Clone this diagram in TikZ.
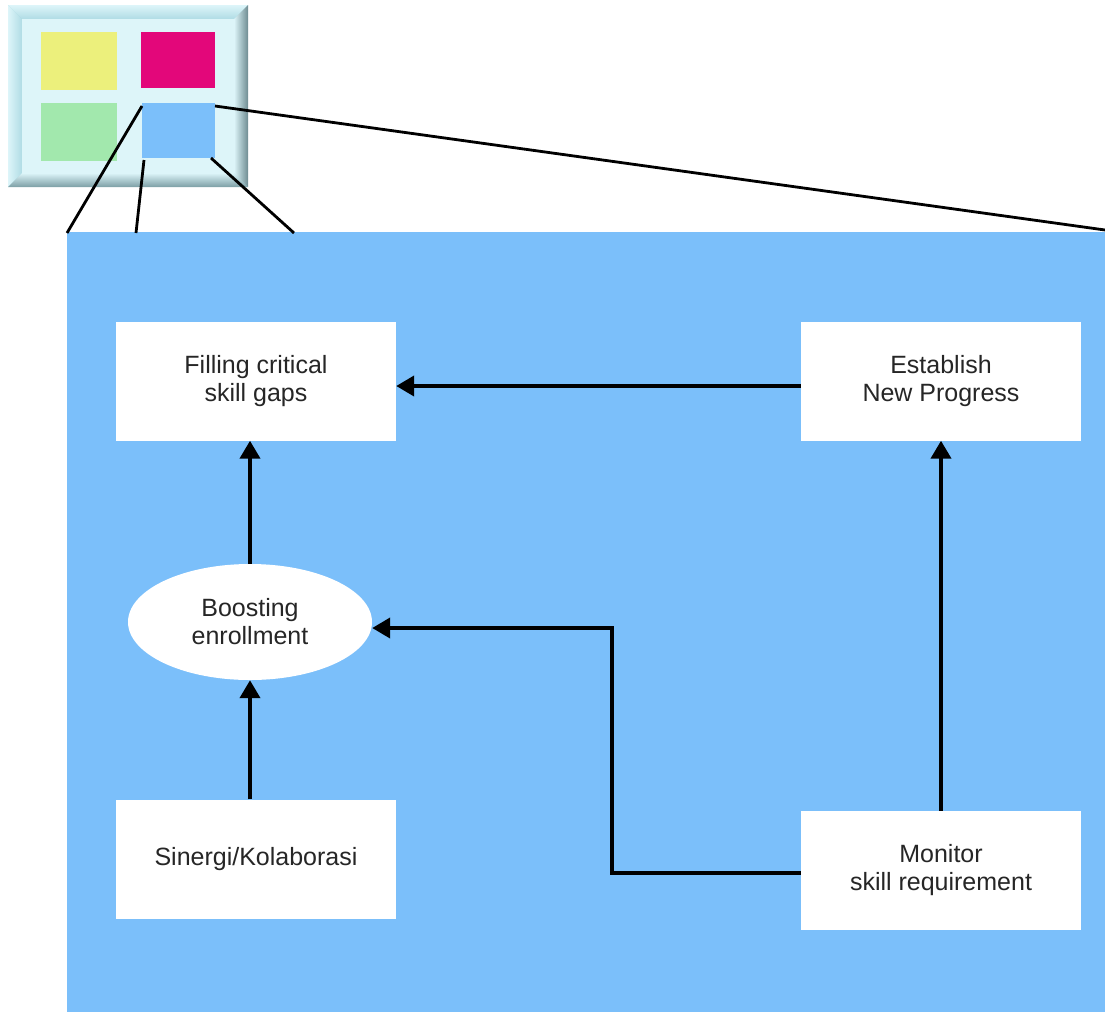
\documentclass[tikz,border=0pt]{standalone}
\usepackage{fontspec}
\setmainfont{Liberation Sans}
\usetikzlibrary{shapes.geometric,arrows.meta}
\definecolor{panelblue}{HTML}{7BBFFA}
\definecolor{frameedge}{HTML}{9CD3DE}
\definecolor{framein}{HTML}{DDF5F9}
\definecolor{tileyellow}{HTML}{ECF07C}
\definecolor{tilemagenta}{HTML}{E3077A}
\definecolor{tilegreen}{HTML}{A2E8AD}
\tikzset{
  every node/.style={font=\fontsize{25}{28}\selectfont, align=center, text=black!85},
  card/.style={fill=white, minimum width=280pt, minimum height=119pt, inner sep=0pt},
  oval/.style={ellipse, fill=white, minimum width=244pt, minimum height=116pt, inner sep=0pt},
  flow/.style={line width=4pt, -{Triangle[length=18pt,width=20pt]}},
  zoomline/.style={line width=2.8pt, black}
}
\begin{document}
\begin{tikzpicture}[x=1pt, y=-1pt]
\useasboundingbox (0,0) rectangle (1105,1012);
% overview frame with bevelled edge
\fill[frameedge] (8,5) rectangle (248,187);
\shade[top color=framein, bottom color=frameedge!80] (8,5) -- (248,5) -- (234,19) -- (22,19) -- cycle;
\shade[left color=framein, right color=frameedge!80] (8,5) -- (22,19) -- (22,173) -- (8,187) -- cycle;
\shade[left color=framein, right color=frameedge!60!black!90] (234,19) -- (248,5) -- (248,187) -- (234,173) -- cycle;
\shade[top color=framein, bottom color=frameedge!70!black!90] (22,173) -- (234,173) -- (248,187) -- (8,187) -- cycle;
\fill[framein] (22,19) rectangle (234,173);
% tiles
\fill[tileyellow] (41,32) rectangle (117,90);
\fill[tilemagenta] (141,32) rectangle (215,88);
\fill[tilegreen] (41,103) rectangle (117,161);
\fill[panelblue] (142,103) rectangle (215,158);
% enlarged panel
\fill[panelblue] (67,232) rectangle (1105,1012);
% zoom guide lines
\coordinate (t1) at (142,106);
\coordinate (t2) at (144,160);
\coordinate (t3) at (211,158);
\coordinate (t4) at (215,106);
\coordinate (p1) at (67,233);
\coordinate (p2) at (136,233);
\coordinate (p3) at (294,233);
\coordinate (p4) at (1105,230);
\draw[zoomline] (t1) -- (p1);
\draw[zoomline] (t2) -- (p2);
\draw[zoomline] (t3) -- (p3);
\draw[zoomline] (t4) -- (p4);
% process nodes
\node[card] (fill) at (256,381) {Filling critical\\skill gaps};
\node[card] (est) at (941,381) {Establish\\New Progress};
\node[oval] (boost) at (250,622) {Boosting\\enrollment};
\node[card] (sin) at (256,859) {Sinergi/Kolaborasi};
\node[card] (mon) at (941,870.5) {Monitor\\skill requirement};
% connectors
\draw[flow] (est.west |- 0,386) -- (fill.east |- 0,386);
\draw[flow] (boost.north) -- (boost.north |- fill.south);
\draw[flow] (sin.north -| boost.south) -- (boost.south);
\draw[flow] (mon.north) -- (est.south);
\draw[flow] (mon.west |- 0,873) -- (612,873) -- (612,628) -- (boost.east |- 0,628);
\end{tikzpicture}
\end{document}
